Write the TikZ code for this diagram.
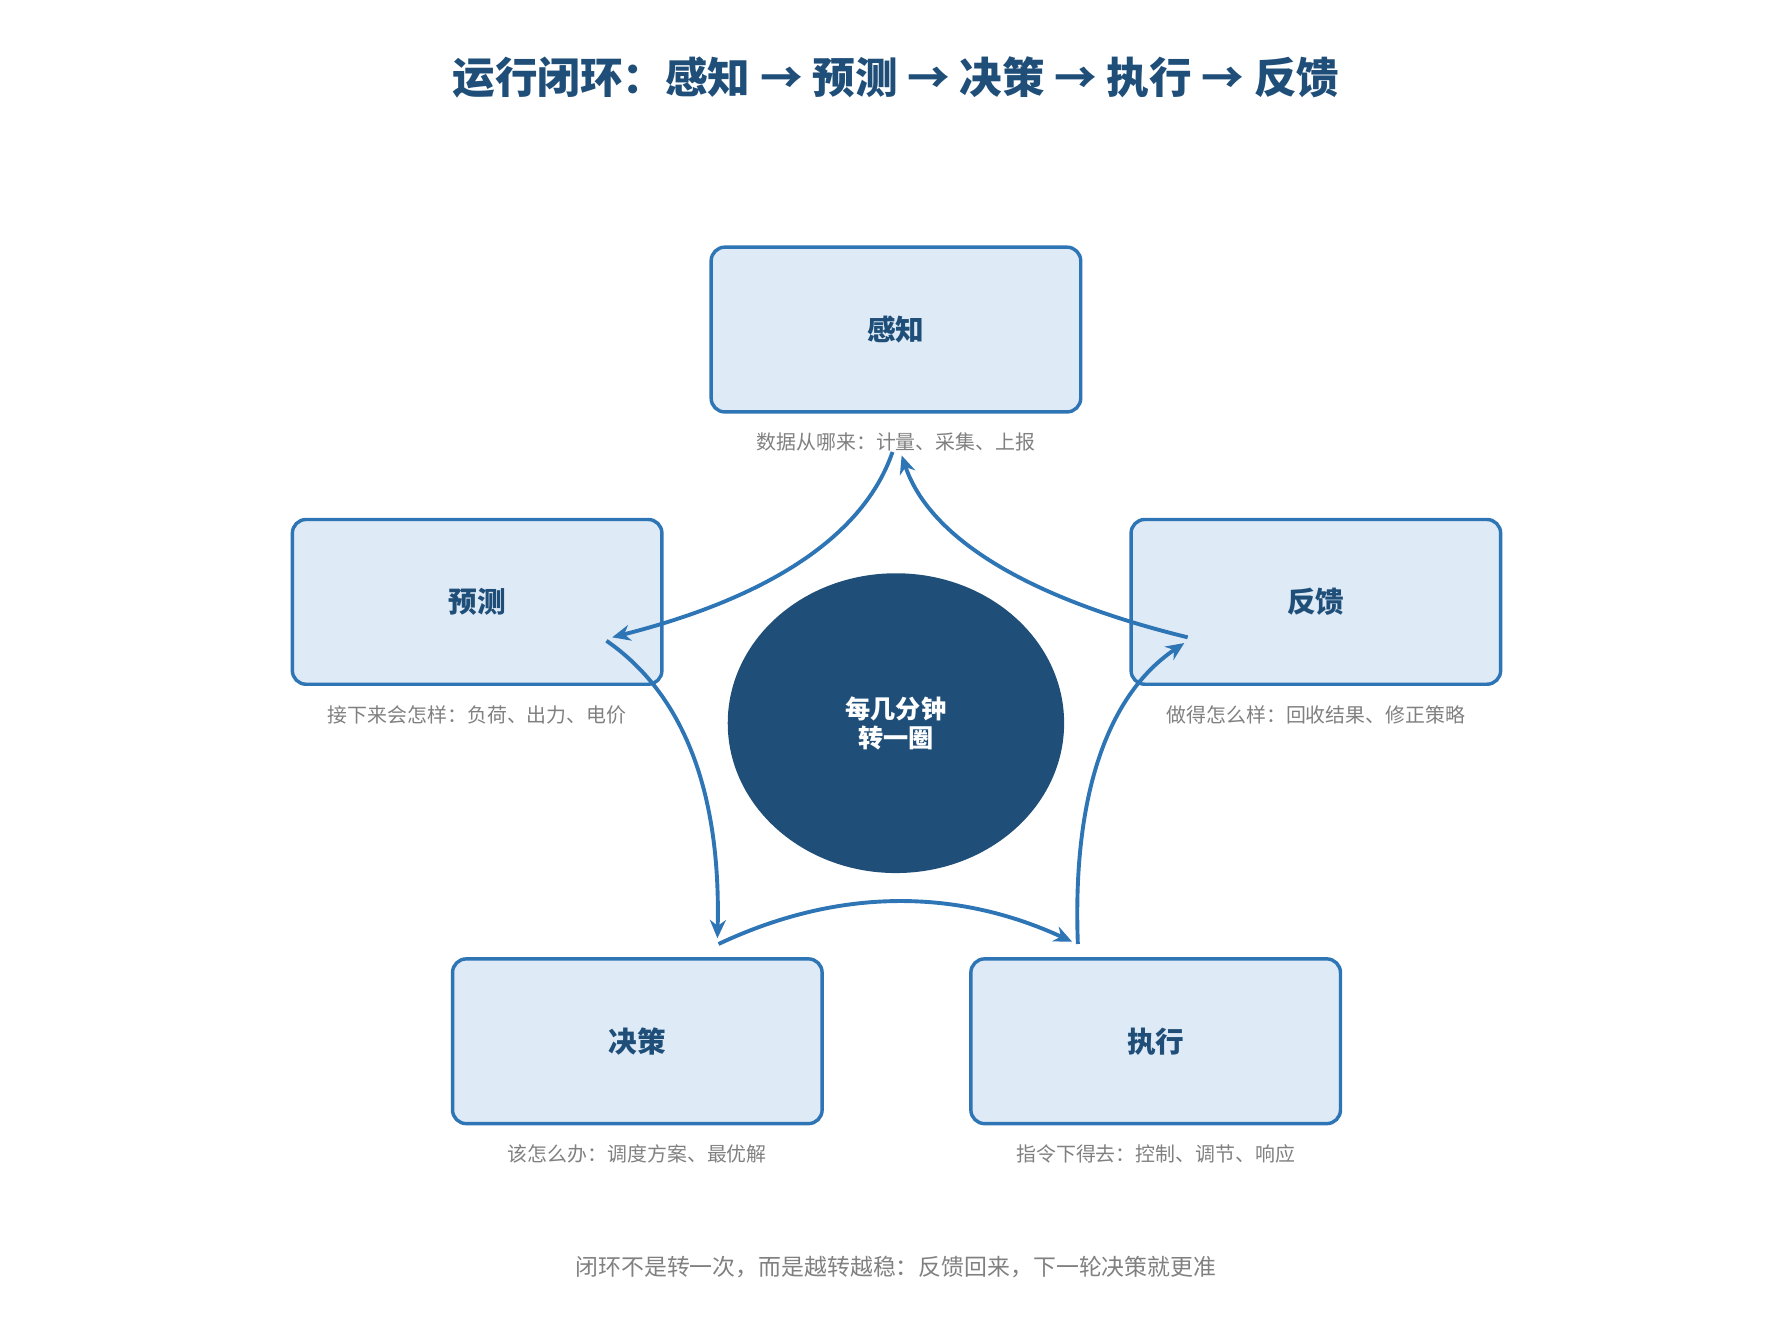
\documentclass[tikz,border=0pt]{standalone}
\usepackage{fontspec}
\setmainfont{Noto Sans CJK SC}
\usetikzlibrary{positioning}
\usetikzlibrary{shapes.geometric}
\usetikzlibrary{arrows.meta}
\definecolor{darkblue}{HTML}{1F4E79}
\definecolor{lineblue}{HTML}{2E75B6}
\definecolor{boxfill}{HTML}{DEEAF6}
\definecolor{capgray}{HTML}{808080}
\tikzset{
  stage/.style={draw=lineblue, fill=boxfill, line width=1.5pt, rounded corners=6pt,
    minimum width=161.5pt, minimum height=72pt, font=\fontsize{12.5}{15}\selectfont\bfseries, text=darkblue},
  caption/.style={font=\fontsize{8.7}{11}\selectfont, text=capgray},
  flow/.style={-{Stealth[length=8pt,width=7pt]}, color=lineblue, line width=1.7pt},
}
\begin{document}
\begin{tikzpicture}[x=0.5pt,y=-0.5pt]
\useasboundingbox (0,0) rectangle (1560,1167);
\node(title)[font=\fontsize{18.6}{22}\selectfont\bfseries, text=darkblue] at (783,68) {运行闭环：感知 → 预测 → 决策 → 执行 → 反馈};

\node(sense)[stage] at (783,288) {感知};
\node(pred)[stage] at (417,526) {预测};
\node(fb)[stage] at (1150,526) {反馈};
\node(dec)[stage] at (557,910) {决策};
\node(exe)[stage] at (1010,910) {执行};

\node(senseC)[below=5pt of sense, caption] {数据从哪来：计量、采集、上报};
\node(predC)[below=5pt of pred, caption] {接下来会怎样：负荷、出力、电价};
\node(fbC)[below=5pt of fb, caption] {做得怎么样：回收结果、修正策略};
\node(decC)[below=5pt of dec, caption] {该怎么办：调度方案、最优解};
\node(exeC)[below=5pt of exe, caption] {指令下得去：控制、调节、响应};

\node(hub)[ellipse, fill=darkblue, minimum width=147pt, minimum height=131pt, text=white,
  align=center, font=\fontsize{11}{12.5}\selectfont\bfseries] at (783,632) {每几分钟\\转一圈};

\node(note)[caption, font=\fontsize{10}{12}\selectfont] at (783,1107) {闭环不是转一次，而是越转越稳：反馈回来，下一轮决策就更准};

\coordinate (s1) at (780,395);  \coordinate (s2) at (788,398);
\coordinate (p1) at (535,557);  \coordinate (p2) at (530,560);
\coordinate (d1) at (627,820);  \coordinate (d2) at (628,825);
\coordinate (e1) at (937,823);  \coordinate (e2) at (942,825);
\coordinate (f1) at (1035,562); \coordinate (f2) at (1038,557);

\draw[flow] (s1) .. controls (755,468) and (673,522) .. (p1);
\draw[flow] (p2) .. controls (598,607) and (630,693) .. (d1);
\draw[flow] (d2) .. controls (732,776) and (835,776) .. (e1);
\draw[flow] (e2) .. controls (937,695) and (968,607) .. (f1);
\draw[flow] (f2) .. controls (895,522) and (812,469) .. (s2);
\end{tikzpicture}
\end{document}
